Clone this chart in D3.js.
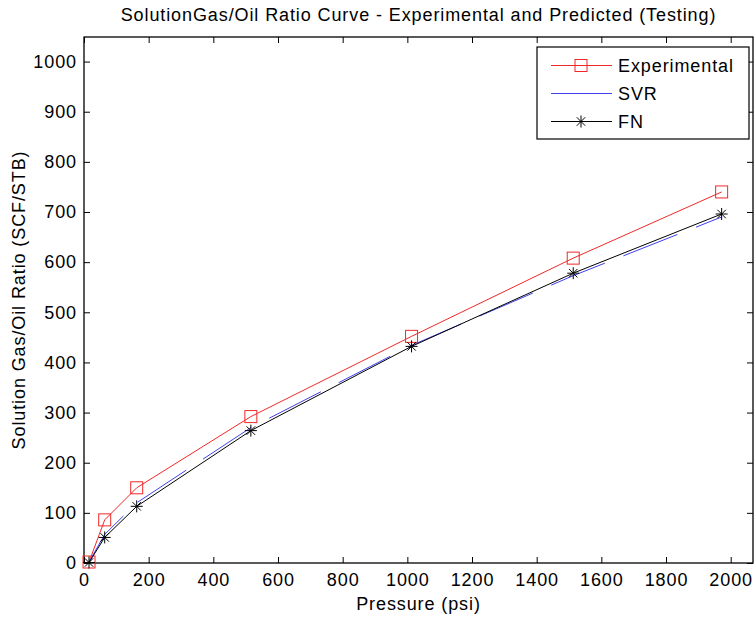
<!DOCTYPE html>
<html>
<head>
<meta charset="utf-8">
<script src="https://cdn.jsdelivr.net/npm/d3@7/dist/d3.min.js"></script>
<style>
  html, body { margin: 0; padding: 0; background: #fff; }
  svg text { font-family: "Liberation Sans", Arial, Helvetica, sans-serif; fill: #000; letter-spacing: 0.9px; }
</style>
</head>
<body>
<svg id="chart" width="756" height="621"></svg>
<script>
// Pressure (psi) at which each sample was taken
const pressure = [15.5, 64, 163, 516, 1013, 1513, 1972];
// Solution gas/oil ratio (SCF/STB)
const experimental = [2, 86, 150, 292, 452, 608, 740];
const svr = [2, 57, 120, 270, 434, 573, 690];
const fn = [1, 51, 113, 264, 432, 578, 696];

const xTicks = [0, 200, 400, 600, 800, 1000, 1200, 1400, 1600, 1800, 2000];
const yTicks = [0, 100, 200, 300, 400, 500, 600, 700, 800, 900, 1000];
const seriesNames = ["Experimental", "SVR", "FN"];

const svg = d3.select("#chart");
const plot = { left: 84, top: 37, right: 753, bottom: 563 };

const x = d3.scaleLinear().domain([0, 2069]).range([plot.left, plot.right]);
const y = d3.scaleLinear().domain([0, 1049]).range([plot.bottom, plot.top]);

const fontSize = 18;

// Title
svg.append("text")
  .attr("x", (plot.left + plot.right) / 2)
  .attr("y", 21)
  .attr("text-anchor", "middle")
  .style("font-size", fontSize + "px")
  .text("SolutionGas/Oil Ratio Curve - Experimental and Predicted (Testing)");

// Axes: ticks point inward, mirrored on the top and right edges
const tickLen = 6;
const fmt = d3.format("d");
const gx = svg.append("g").attr("transform", `translate(0,${plot.bottom})`)
  .call(d3.axisBottom(x).tickValues(xTicks).tickFormat(fmt).tickSize(-tickLen).tickPadding(10).tickSizeOuter(0));
const gxTop = svg.append("g").attr("transform", `translate(0,${plot.top})`)
  .call(d3.axisTop(x).tickValues(xTicks).tickSize(-tickLen).tickFormat("").tickSizeOuter(0));
const gy = svg.append("g").attr("transform", `translate(${plot.left},0)`)
  .call(d3.axisLeft(y).tickValues(yTicks).tickFormat(fmt).tickSize(-tickLen).tickPadding(7).tickSizeOuter(0));
const gyRight = svg.append("g").attr("transform", `translate(${plot.right},0)`)
  .call(d3.axisRight(y).tickValues(yTicks).tickSize(-tickLen).tickFormat("").tickSizeOuter(0));

[gx, gxTop, gy, gyRight].forEach(g => {
  g.select(".domain").remove();
  g.selectAll(".tick line").attr("stroke", "#000").attr("stroke-width", 1);
  g.selectAll(".tick text").style("font-size", fontSize + "px")
    .style("font-family", '"Liberation Sans", Arial, sans-serif');
});

// Plot frame
svg.append("rect")
  .attr("x", plot.left).attr("y", plot.top)
  .attr("width", plot.right - plot.left).attr("height", plot.bottom - plot.top)
  .attr("fill", "none").attr("stroke", "#000").attr("stroke-width", 1.3);

// Axis labels
svg.append("text")
  .attr("x", (plot.left + plot.right) / 2)
  .attr("y", 610)
  .attr("text-anchor", "middle")
  .style("font-size", fontSize + "px")
  .text("Pressure (psi)");
svg.append("text")
  .attr("transform", `translate(25,${(plot.top + plot.bottom) / 2}) rotate(-90)`)
  .attr("text-anchor", "middle")
  .style("font-size", fontSize + "px")
  .text("Solution Gas/Oil Ratio (SCF/STB)");

const line = d3.line().x(d => x(d[0])).y(d => y(d[1]));
const pairs = vals => pressure.map((p, i) => [p, vals[i]]);

const red = "#f22828";
const blue = "#4040f0";

// Experimental: red line with open squares
svg.append("path").datum(pairs(experimental))
  .attr("d", line).attr("fill", "none").attr("stroke", red).attr("stroke-width", 1);
svg.selectAll(".sq").data(pairs(experimental)).enter().append("rect")
  .attr("x", d => x(d[0]) - 6).attr("y", d => y(d[1]) - 6)
  .attr("width", 12).attr("height", 12)
  .attr("fill", "none").attr("stroke", red).attr("stroke-width", 1);

// SVR: blue line
svg.append("path").datum(pairs(svr))
  .attr("d", line).attr("fill", "none").attr("stroke", blue).attr("stroke-width", 1)
  .attr("stroke-dasharray", "58,20");

// FN: black line with asterisks
svg.append("path").datum(pairs(fn))
  .attr("d", line).attr("fill", "none").attr("stroke", "#000").attr("stroke-width", 1);

function star(g, cx, cy, r) {
  const a = r * Math.SQRT1_2;
  const path = `M${cx - r},${cy}L${cx + r},${cy}M${cx},${cy - r}L${cx},${cy + r}` +
    `M${cx - a},${cy - a}L${cx + a},${cy + a}M${cx - a},${cy + a}L${cx + a},${cy - a}`;
  g.append("path").attr("d", path).attr("stroke", "#000").attr("stroke-width", 1).attr("fill", "none");
}
const stars = svg.append("g");
pairs(fn).forEach(d => star(stars, x(d[0]), y(d[1]), 6));

// Legend
const leg = svg.append("g");
const lx = 537, ly = 47, lw = 212, lh = 92;
leg.append("rect").attr("x", lx).attr("y", ly).attr("width", lw).attr("height", lh)
  .attr("fill", "#fff").attr("stroke", "#000").attr("stroke-width", 1.2);
const rowY = [65.5, 93.5, 121.5];
const strokes = [red, blue, "#000"];
seriesNames.forEach((name, i) => {
  leg.append("line").attr("x1", 551).attr("x2", 612).attr("y1", rowY[i]).attr("y2", rowY[i])
    .attr("stroke", strokes[i]).attr("stroke-width", 1);
  leg.append("text").attr("x", 618).attr("y", rowY[i]).attr("dy", "0.35em")
    .style("font-size", fontSize + "px").text(name);
});
leg.append("rect").attr("x", 581 - 6).attr("y", rowY[0] - 6).attr("width", 12).attr("height", 12)
  .attr("fill", "none").attr("stroke", red).attr("stroke-width", 1);
star(leg, 581, rowY[2], 6);
</script>
</body>
</html>
